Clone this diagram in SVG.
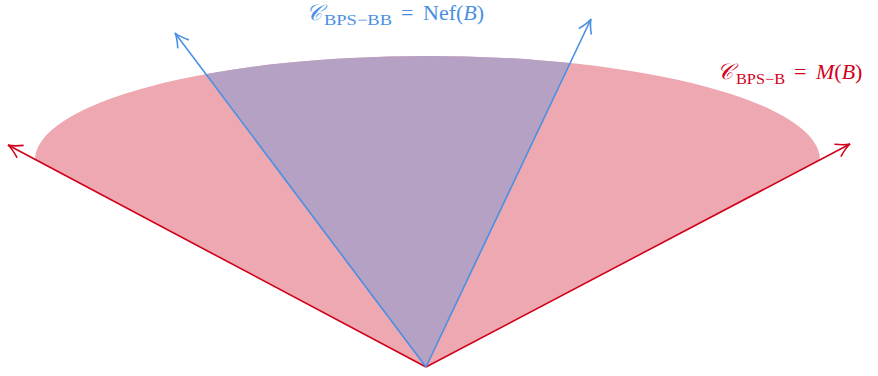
<svg xmlns="http://www.w3.org/2000/svg" width="878" height="376" viewBox="0 0 878 376">
<style>
.red{stroke:#d0021b;stroke-width:1.6;fill:none}
.blue{stroke:#4a90e2;stroke-width:1.6;fill:none}
.lbl{font-family:"Liberation Serif","DejaVu Serif",serif;font-size:22px}
.sub{font-size:15px}
</style>
<defs>
<marker id="ar" markerUnits="userSpaceOnUse" orient="auto" markerWidth="30" markerHeight="30" viewBox="-15 -15 30 30" refX="0" refY="0">
<path d="M-14,-7 Q-5,-1 0,0 Q-5,1 -14,7" stroke="#d0021b" stroke-width="1.6" fill="none"/>
</marker>
<marker id="ab" markerUnits="userSpaceOnUse" orient="auto" markerWidth="30" markerHeight="30" viewBox="-15 -15 30 30" refX="0" refY="0">
<path d="M-14,-7 Q-5,-1 0,0 Q-5,1 -14,7" stroke="#4a90e2" stroke-width="1.6" fill="none"/>
</marker>
<clipPath id="cap">
<path d="M426,367 L35,160 A392,104 0 0 1 820,160 Z"/>
</clipPath>
</defs>
<g id="cone-B">
<path d="M426,367 L35,160 A392,104 0 0 1 820,160 Z" fill="#eea8b1"/>
</g>
<g id="cone-BB">
<path d="M426,367 L174,32 L592,18 Z" fill="#b5a1c3" clip-path="url(#cap)"/>
</g>
<g id="connectors">
<line class="red" x1="426" y1="367" x2="8" y2="145" marker-end="url(#ar)"/>
<line class="red" x1="426" y1="367" x2="850" y2="144" marker-end="url(#ar)"/>
<line class="blue" x1="426" y1="367" x2="175" y2="33" marker-end="url(#ab)"/>
<line class="blue" x1="426" y1="367" x2="591" y2="19" marker-end="url(#ab)"/>
</g>
<g id="label-BB">
<text class="lbl" y="20" fill="#4a90e2"><tspan x="306" font-style="italic">𝒞</tspan><tspan class="sub" x="324" y="25" textLength="68" lengthAdjust="spacingAndGlyphs">BPS−BB</tspan><tspan x="401" y="20">=</tspan><tspan x="423">Nef(</tspan><tspan font-style="italic">B</tspan><tspan>)</tspan></text>
</g>
<g id="label-B">
<text class="lbl" y="79" fill="#d0021b"><tspan x="717" font-style="italic">𝒞</tspan><tspan class="sub" x="736" y="84" textLength="49" lengthAdjust="spacingAndGlyphs">BPS−B</tspan><tspan x="794" y="79">=</tspan><tspan x="816" font-style="italic">M</tspan><tspan>(</tspan><tspan font-style="italic">B</tspan><tspan>)</tspan></text>
</g>
</svg>
